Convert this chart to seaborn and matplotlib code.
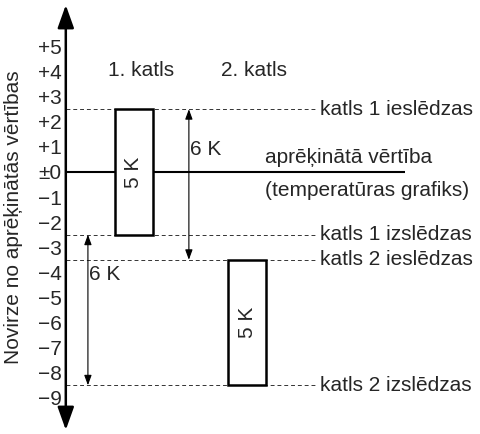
import matplotlib
matplotlib.use("Agg")
import matplotlib.pyplot as plt
import seaborn as sns

# Data
categories = ["1. katls", "2. katls"]
switch_on = [2.5, -3.5]
switch_off = [-2.5, -8.5]
box_labels = ["5 K", "5 K"]
on_labels = ["katls 1 ieslēdzas", "katls 2 ieslēdzas"]
off_labels = ["katls 1 izslēdzas", "katls 2 izslēdzas"]
setpoint = 0
setpoint_labels = ["aprēķinātā vērtība", "(temperatūras grafiks)"]
gap_labels = ["6 K", "6 K"]
tick_values = [5, 4, 3, 2, 1, 0, -1, -2, -3, -4, -5, -6, -7, -8, -9]
tick_labels = ["+5", "+4", "+3", "+2", "+1", "±0", "−1", "−2", "−3",
               "−4", "−5", "−6", "−7", "−8", "−9"]
ylabel = "Novirze no aprēķinātās vērtības"

sns.set_style("white")
plt.rcParams['font.family'] = ['Liberation Sans', 'DejaVu Sans']
fs = 15

fig = plt.figure(figsize=(4.81, 4.34), dpi=100)
ax = fig.add_axes([0, 0, 1, 1])
ax.set_xlim(-1.18, 3.06)
ax.set_ylim(-10.44, 6.85)

axis_x = -0.6
line_end = 1.595
text_x = 1.64

# y axis with arrows at both ends
for s in ax.spines.values():
    s.set_visible(False)
ax.spines['left'].set_position(('data', axis_x))
ax.set_yticks(tick_values)
ax.set_yticklabels(tick_labels, fontsize=fs)
ax.tick_params(axis='y', length=0, pad=3)
ax.set_xticks([])
ax.annotate("", xy=(axis_x, 6.65), xytext=(axis_x, -10.28),
            arrowprops=dict(arrowstyle='<|-|>,head_length=1.4,head_width=0.5',
                            lw=1.8, color='black', mutation_scale=10,
                            shrinkA=0, shrinkB=0))
fig.text(14 / 481, 1 - 217 / 434, ylabel, rotation=90, ha='center',
         va='center', fontsize=fs)

# dashed switching levels
levels = switch_on + switch_off
level_labels = on_labels + off_labels
ax.hlines(levels, axis_x, line_end, colors='#333333', linestyles=(0, (4, 3)),
          lw=0.7, zorder=1)
for y, lab in zip(levels, level_labels):
    ax.text(text_x, y, lab, ha='left', va='center', fontsize=fs)

# setpoint line
ax.hlines(setpoint, axis_x, 2.39, colors='black', lw=1.5, zorder=1)
ax.text(1.154, setpoint + 0.56, setpoint_labels[0], ha='left', va='center', fontsize=fs)
ax.text(1.154, setpoint - 0.72, setpoint_labels[1], ha='left', va='center', fontsize=fs)

# boiler hysteresis boxes
pos = list(range(len(categories)))
heights = [a - b for a, b in zip(switch_on, switch_off)]
ax.bar(pos, heights, bottom=switch_off, width=0.335, color='white',
       edgecolor='black', lw=1.8, zorder=3)
for p, on, off, lab in zip(pos, switch_on, switch_off, box_labels):
    ax.text(p, (on + off) / 2, lab, rotation=90, ha='center', va='center',
            fontsize=fs, zorder=4)
for p, cat in zip(pos, categories):
    ax.text(p + 0.06, 4.06, cat, ha='center', va='center', fontsize=fs)

# 6 K offsets between boilers
small = dict(arrowstyle='<|-|>,head_length=0.6,head_width=0.22', lw=0.8,
             color='black', mutation_scale=10, shrinkA=0, shrinkB=0)
ax.annotate("", xy=(0.485, switch_on[0]), xytext=(0.485, switch_on[1]),
            arrowprops=small)
ax.text(0.495, 0.88, gap_labels[0], ha='left', va='center', fontsize=fs)
ax.annotate("", xy=(-0.405, switch_off[0]), xytext=(-0.405, switch_off[1]),
            arrowprops=small)
ax.text(-0.395, -4.1, gap_labels[1], ha='left', va='center', fontsize=fs)

fig.savefig("out.png", dpi=100)
